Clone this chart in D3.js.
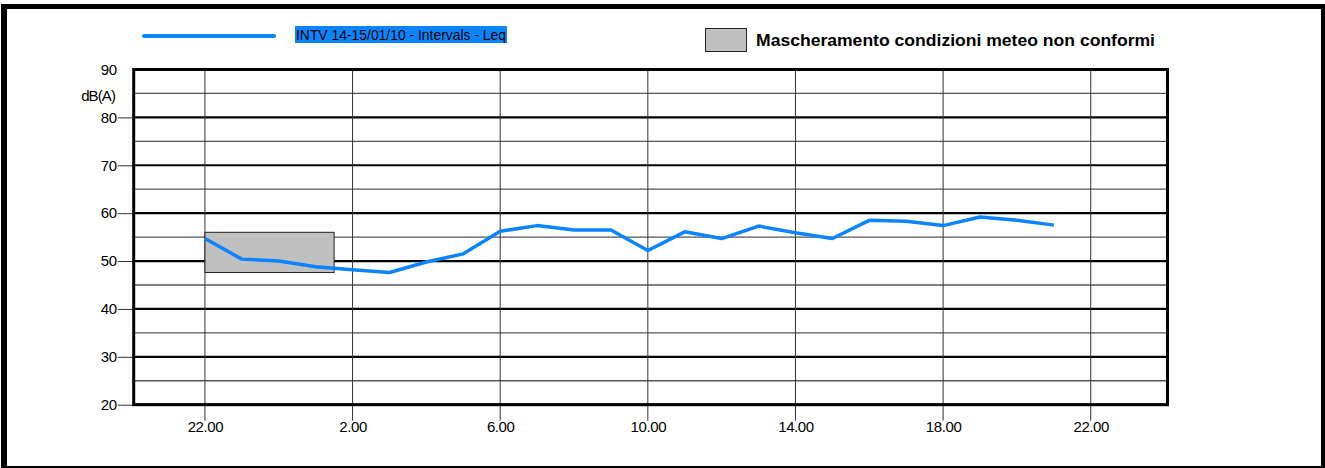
<!DOCTYPE html>
<html><head><meta charset="utf-8">
<script src="https://cdn.jsdelivr.net/npm/d3@7"></script>
<style>body{margin:0;background:#fff}svg{display:block;font-family:"Liberation Sans",Arial,sans-serif}</style>
</head><body><svg id="c" width="1325" height="468"></svg>
<script>
// hours after 22:00 (14/01/10)
const hours = [0,1,2,3,4,5,6,7,8,9,10,11,12,13,14,15,16,17,18,19,20,21,22,23];
const leq = [54.7,50.4,50.0,48.8,48.2,47.6,49.8,51.5,56.2,57.4,56.5,56.5,52.2,56.1,54.7,57.3,55.9,54.7,58.5,58.3,57.4,59.2,58.5,57.5];
const xTickHours = [0,4,8,12,16,20,24];
const xTickLabels = ["22.00","2.00","6.00","10.00","14.00","18.00","22.00"];
const yMajor = [20,30,40,50,60,70,80,90];
const yMinor = [25,35,45,55,65,75,85];
const maskStart = 0, maskEnd = 3.5, maskLow = 47.6, maskHigh = 56.0;
const seriesName = "INTV 14-15/01/10 - Intervals - Leq";
const maskName = "Mascheramento condizioni meteo non conformi";
const unitLabel = "dB(A)";

const blue = "#0a84ff";
const svg = d3.select("#c");
const L = 133.7, R = 1167.5, T = 69.5, B = 404.7;
const x = d3.scaleLinear().domain([-1.93, 26.08]).range([L, R]);
const y = d3.scaleLinear().domain([20, 90]).range([B, T]);

// outer frame
svg.append("rect").attr("x",1).attr("y",4).attr("width",6).attr("height",464).attr("fill","#000");
svg.append("rect").attr("x",1).attr("y",4).attr("width",1324).attr("height",5).attr("fill","#000");
svg.append("rect").attr("x",1321).attr("y",4).attr("width",4).attr("height",464).attr("fill","#000");
svg.append("rect").attr("x",1).attr("y",466).attr("width",1324).attr("height",2).attr("fill","#000");

// minor horizontal grid
svg.append("g").selectAll("line").data(yMinor).join("line")
  .attr("x1",L).attr("x2",R).attr("y1",d=>y(d)).attr("y2",d=>y(d))
  .attr("stroke","#555").attr("stroke-width",1.3);
// major horizontal grid
svg.append("g").selectAll("line").data(yMajor).join("line")
  .attr("x1",L).attr("x2",R).attr("y1",d=>y(d)).attr("y2",d=>y(d))
  .attr("stroke","#000").attr("stroke-width",2.2);
// vertical grid + ticks below
svg.append("g").selectAll("line").data(xTickHours).join("line")
  .attr("x1",d=>x(d)).attr("x2",d=>x(d)).attr("y1",T).attr("y2",B+16)
  .attr("stroke","#333").attr("stroke-width",1);

// y axis ticks & labels
const yAxis = d3.axisLeft(y).tickValues(yMajor).tickSize(16).tickPadding(1).tickFormat(d3.format("d"));
const ya = svg.append("g").attr("transform",`translate(${L},0)`).call(yAxis);
ya.select(".domain").remove();
ya.selectAll(".tick line").attr("stroke","#333").attr("stroke-width",1);
ya.selectAll(".tick text").attr("font-size",15).attr("letter-spacing",-0.4).attr("fill","#000")
  .attr("font-family","Liberation Sans, Arial, sans-serif");
ya.selectAll(".tick").filter(d=>d===90).select("line").remove();
svg.append("text").attr("x",115).attr("y",96).attr("dy","0.35em").attr("text-anchor","end")
  .attr("font-size",15).attr("letter-spacing",-0.9).text(unitLabel);

// x labels
const xAxis = d3.axisBottom(x).tickValues(xTickHours).tickSize(0).tickPadding(17)
  .tickFormat((d,i)=>xTickLabels[i]);
const xa = svg.append("g").attr("transform",`translate(0,${B})`).call(xAxis);
xa.select(".domain").remove();
xa.selectAll(".tick text").attr("font-size",15).attr("letter-spacing",-0.4).attr("fill","#000")
  .attr("font-family","Liberation Sans, Arial, sans-serif");

// mask rectangle
svg.append("rect").attr("x",x(maskStart)).attr("y",y(maskHigh))
  .attr("width",x(maskEnd)-x(maskStart)).attr("height",y(maskLow)-y(maskHigh))
  .attr("fill","#c0c0c0").attr("stroke","#222").attr("stroke-width",1);

// plot frame
svg.append("rect").attr("x",L).attr("y",T).attr("width",R-L).attr("height",B-T)
  .attr("fill","none").attr("stroke","#000").attr("stroke-width",3);

// data line
svg.append("path").datum(hours.map((h,i)=>[h,leq[i]]))
  .attr("d",d3.line().x(d=>x(d[0])).y(d=>y(d[1])))
  .attr("fill","none").attr("stroke",blue).attr("stroke-width",3.5).attr("stroke-linejoin","round");

// legend 1
svg.append("line").attr("x1",144).attr("x2",274).attr("y1",36).attr("y2",36)
  .attr("stroke",blue).attr("stroke-width",4).attr("stroke-linecap","round");
svg.append("rect").attr("x",295).attr("y",26).attr("width",212).attr("height",17).attr("fill",blue);
svg.append("text").attr("x",296).attr("y",40).attr("font-size",14.5)
  .attr("textLength",210).attr("lengthAdjust","spacingAndGlyphs").attr("fill","#000").text(seriesName);

// legend 2
svg.append("rect").attr("x",705.5).attr("y",28.5).attr("width",41).attr("height",23)
  .attr("fill","#c0c0c0").attr("stroke","#222").attr("stroke-width",1);
svg.append("text").attr("x",756).attr("y",46).attr("font-size",16).attr("font-weight","bold")
  .attr("textLength",399).attr("lengthAdjust","spacingAndGlyphs").attr("fill","#000").text(maskName);
</script></body></html>
